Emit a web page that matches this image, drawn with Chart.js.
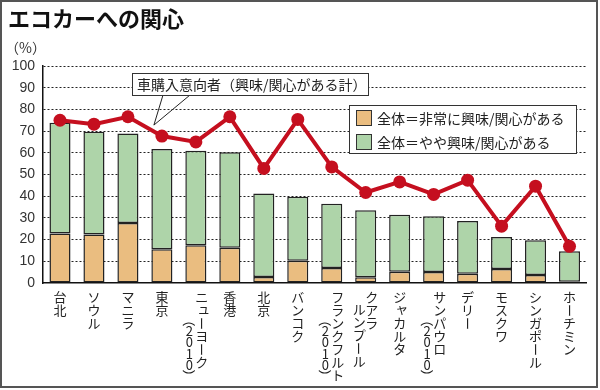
<!DOCTYPE html>
<html>
<head>
<meta charset="utf-8">
<script src="https://cdn.jsdelivr.net/npm/chart.js@4/dist/chart.umd.min.js"></script>
<style>
html,body{margin:0;padding:0;background:#fff;}
#c{display:block;}
</style>
</head>
<body>
<canvas id="c" width="600" height="390"></canvas>
<script>
const chartTitle = 'エコカーへの関心';
const unitLabel = '（%）';
const categories = ['台北','ソウル','マニラ','東京','ニューヨーク\n（2010）','香港','北京','バンコク','フランクフルト\n（2010）','クアラ\nルンプール','ジャカルタ','サンパウロ\n（2010）','デリー','モスクワ','シンガポール','ホーチミン'];
const seriesNames = ['全体＝非常に興味/関心がある','全体＝やや興味/関心がある','車購入意向者（興味/関心がある計）'];
const veryInterested = [22.8, 22.3, 27.7, 15.5, 17.4, 16.2, 2.8, 10.2, 6.9, 2.6, 5.2, 5.1, 4.3, 6.5, 3.7, 0.6];
const somewhatInterested = [51.0, 47.4, 41.2, 46.2, 43.5, 44.0, 38.4, 29.5, 29.6, 30.9, 26.3, 25.7, 24.3, 14.7, 16.0, 14.0];
const purchaseIntent = [75.0, 73.2, 76.6, 67.7, 65.0, 76.6, 52.8, 75.4, 53.5, 41.7, 46.6, 40.8, 47.4, 26.2, 44.6, 16.9];
const yTicks = [0,10,20,30,40,50,60,70,80,90,100];

const ORANGE = '#eabd80';
const GREEN = '#aed4a9';
const RED = '#c50f1f';
const JP = '"Noto Sans CJK JP", sans-serif';

const decor = {
  id: 'decor',
  afterDraw(chart) {
    const ctx = chart.ctx;
    const xs = chart.scales.x;
    ctx.save();
    // outer frame
    ctx.strokeStyle = '#555';
    ctx.lineWidth = 2;
    ctx.strokeRect(1, 1, 596, 386);
    // title
    ctx.fillStyle = '#111';
    ctx.textBaseline = 'middle';
    ctx.textAlign = 'left';
    ctx.font = 'bold 22px ' + JP;
    ctx.fillText(chartTitle, 8, 19);
    ctx.font = '14px ' + JP;
    ctx.fillStyle = '#333';
    ctx.fillText(unitLabel, 5, 48);

    // legend box
    ctx.fillStyle = '#fff';
    ctx.fillRect(349.5, 105.5, 227, 48);
    ctx.strokeStyle = '#333';
    ctx.lineWidth = 1;
    ctx.strokeRect(349.5, 105.5, 227, 48);
    const legendItems = [[seriesNames[0], ORANGE], [seriesNames[1], GREEN]];
    legendItems.forEach((it, i) => {
      const y = 118 + i * 24;
      ctx.fillStyle = it[1];
      ctx.fillRect(356.5, y - 7.5, 15, 15);
      ctx.strokeStyle = '#333';
      ctx.strokeRect(356.5, y - 7.5, 15, 15);
      ctx.fillStyle = '#222';
      ctx.font = '14px ' + JP;
      ctx.textAlign = 'left';
      ctx.fillText(it[0], 377, y + 1);
    });

    // callout
    const pt = chart.getDatasetMeta(2).data[3];
    const tx = pt.x - 8, ty = pt.y - 11;
    ctx.strokeStyle = '#222';
    ctx.lineWidth = 1;
    ctx.beginPath();
    ctx.moveTo(163, 95); ctx.lineTo(tx, ty);
    ctx.moveTo(190, 95); ctx.lineTo(tx, ty);
    ctx.stroke();
    ctx.fillStyle = '#fff';
    ctx.fillRect(132.5, 73.5, 236, 22);
    ctx.strokeStyle = '#333';
    ctx.strokeRect(132.5, 73.5, 236, 22);
    ctx.fillStyle = '#222';
    ctx.font = '14px ' + JP;
    ctx.fillText(seriesNames[2], 137, 85);

    // vertical category labels
    ctx.font = '13px ' + JP;
    ctx.fillStyle = '#222';
    ctx.textAlign = 'center';
    ctx.textBaseline = 'middle';
    const rotated = 'ー（）';
    const small = 'ャュョッァィゥェォ';
    categories.forEach((lab, i) => {
      const cx = xs.getPixelForValue(i);
      const cols = lab.split('\n');
      cols.forEach((col, j) => {
        const x = cols.length === 1 ? cx : (j === 0 ? cx + 6 : cx - 6.5);
        let y = 291 + (j === 0 ? 0 : (col.startsWith('（') ? 24 : 12));
        for (const ch of col) {
          let adv = 13;
          if (/[0-9]/.test(ch)) adv = 11.5;
          if (ch === '（' || ch === '）') adv = 10;
          const cy = y + adv / 2;
          if (rotated.includes(ch)) {
            ctx.save();
            ctx.translate(x, cy);
            ctx.rotate(Math.PI / 2);
            ctx.fillText(ch, 0, 0);
            ctx.restore();
          } else if (small.includes(ch)) {
            ctx.fillText(ch, x + 2, cy - 2);
          } else {
            ctx.fillText(ch, x, cy);
          }
          y += adv;
        }
      });
    });
    ctx.restore();
  }
};

new Chart(document.getElementById('c'), {
  data: {
    labels: categories,
    datasets: [
      { type: 'bar', label: seriesNames[0], data: veryInterested, backgroundColor: ORANGE, borderColor: '#222', borderWidth: 1.5, borderSkipped: false, order: 2, barPercentage: 0.62, categoryPercentage: 1 },
      { type: 'bar', label: seriesNames[1], data: somewhatInterested, backgroundColor: GREEN, borderColor: '#222', borderWidth: 1.5, borderSkipped: false, order: 2, barPercentage: 0.62, categoryPercentage: 1 },
      { type: 'line', label: seriesNames[2], data: purchaseIntent, borderColor: RED, backgroundColor: RED, borderWidth: 4, pointRadius: 6.5, pointBorderWidth: 0, pointBackgroundColor: RED, tension: 0, order: 0 }
    ]
  },
  options: {
    responsive: false,
    animation: false,
    devicePixelRatio: 1,
    layout: { padding: { top: 66, right: 13.5, left: 0, bottom: 0 } },
    plugins: { legend: { display: false }, tooltip: { enabled: false } },
    scales: {
      x: {
        stacked: true,
        grid: { display: false },
        border: { display: true, color: '#111', width: 1.5 },
        ticks: { display: false },
        afterFit(s) { s.height = 107; }
      },
      y: {
        stacked: true,
        min: 0, max: 100,
        afterBuildTicks(s) { s.ticks = yTicks.map(v => ({ value: v })); },
        grid: {
          drawTicks: false,
          color: ctx => ctx.tick && ctx.tick.value === 0 ? 'rgba(0,0,0,0)' : '#222',
          lineWidth: 1
        },
        border: { display: true, color: '#111', width: 1.5, dash: [2, 2], dashOffset: 0 },
        ticks: { color: '#333', font: { family: '"Liberation Sans", Arial, sans-serif', size: 14 }, padding: 8 },
        afterFit(s) { s.width = 43; }
      }
    }
  },
  plugins: [decor]
});
</script>
</body>
</html>
